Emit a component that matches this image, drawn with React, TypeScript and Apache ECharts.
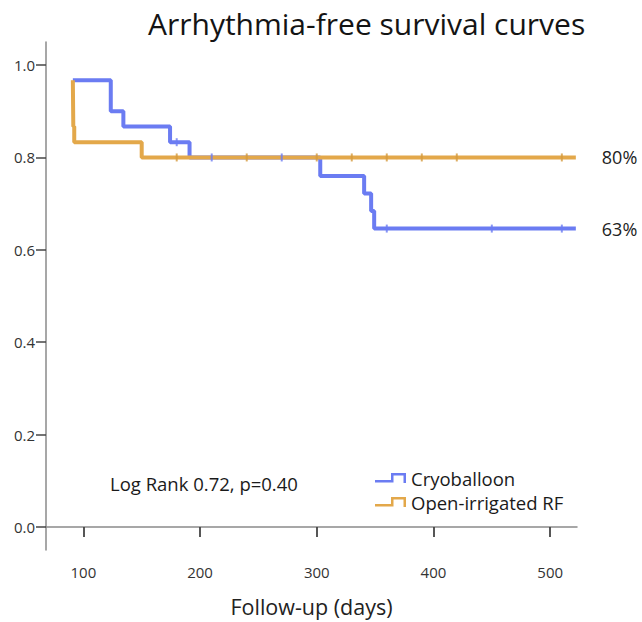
import React, { useEffect, useRef } from "react";
import * as echarts from "echarts";

const titleText = "Arrhythmia-free survival curves";
const xAxisName = "Follow-up (days)";
const statText = "Log Rank 0.72, p=0.40";
const seriesNames = ["Cryoballoon", "Open-irrigated RF"];
const endLabels = ["63%", "80%"];
const xTicks = [100, 200, 300, 400, 500];
const yTicks = [0, 0.2, 0.4, 0.6, 0.8, 1.0];

// Kaplan-Meier steps: [day, survival after event]
const cryoDays = [91, 123.5, 134.3, 174.3, 191, 303, 340.6, 346.6, 349.2, 522];
const cryoSurv = [0.967, 0.9, 0.867, 0.833, 0.8, 0.76, 0.722, 0.684, 0.646, 0.646];
const rfDays = [91, 91.4, 92.2, 150, 522];
const rfSurv = [0.967, 0.867, 0.833, 0.8, 0.8];

// censored observations
const cryoCensorDays = [180, 210, 270, 360, 450, 510];
const cryoCensorSurv = [0.833, 0.8, 0.8, 0.646, 0.646, 0.646];
const rfCensorDays = [180, 240, 300, 330, 360, 390, 420, 510];
const rfCensorSurv = [0.8, 0.8, 0.8, 0.8, 0.8, 0.8, 0.8, 0.8];

const BLUE = "#6b7cf2";
const ORANGE = "#e3a84a";
const FONT = "'Open Sans', 'Noto Sans', sans-serif";

const zip = (a: number[], b: number[]) => a.map((v, i) => [v, b[i]]);

const stepIcon =
  "path://M0,7 L16,7 L16,0 L31,0 L31,10 L28.5,10 L28.5,2.5 L18.5,2.5 L18.5,9.5 L0,9.5 Z";

export default function App() {
  const ref = useRef<HTMLDivElement>(null);
  useEffect(() => {
    if (!ref.current) return;
    const chart = echarts.init(ref.current, null, { renderer: "svg" });
    chart.setOption({
      animation: false,
      backgroundColor: "#ffffff",
      textStyle: { fontFamily: FONT },
      title: {
        text: titleText,
        left: 143,
        top: 3,
        textStyle: { fontSize: 30, fontWeight: "normal", color: "#141414", fontFamily: FONT },
      },
      grid: { left: 46, top: 42, right: 65, bottom: 71, containLabel: false },
      legend: {
        data: seriesNames.map((n) => ({ name: n, icon: stepIcon })),
        orient: "vertical",
        left: 370,
        top: 462,
        itemWidth: 31,
        itemHeight: 10,
        itemGap: 2,
        selectedMode: false,
        textStyle: { fontSize: 18.5, color: "#1a1a1a", fontFamily: FONT, lineHeight: 22 },
      },
      xAxis: {
        type: "value",
        min: 68,
        max: 523,
        name: xAxisName,
        nameLocation: "middle",
        nameGap: 45,
        nameTextStyle: { fontSize: 21.5, color: "#222", fontFamily: FONT },
        splitLine: { show: false },
        axisLine: { show: true, lineStyle: { color: "#8a8a8a", width: 1.5 } },
        axisTick: { show: true, length: 10, lineStyle: { color: "#444", width: 1.8 }, customValues: xTicks },
        axisLabel: { customValues: xTicks, fontSize: 15, color: "#333", margin: 14, fontFamily: FONT },
      },
      yAxis: {
        type: "value",
        min: -0.05,
        max: 1.05,
        splitLine: { show: false },
        axisLine: { show: true, lineStyle: { color: "#8a8a8a", width: 1.5 } },
        axisTick: { show: true, length: 10, lineStyle: { color: "#444", width: 1.5 }, customValues: yTicks },
        axisLabel: {
          customValues: yTicks,
          fontSize: 15,
          color: "#333",
          margin: 11,
          fontFamily: FONT,
          formatter: (v: number) => v.toFixed(1),
        },
      },
      series: [
        {
          name: seriesNames[0],
          type: "line",
          step: "end",
          data: zip(cryoDays, cryoSurv),
          showSymbol: false,
          color: BLUE,
          lineStyle: { color: BLUE, width: 4 },
          z: 2,
          endLabel: {
            show: true,
            formatter: () => endLabels[0],
            distance: 26,
            fontSize: 18,
            color: "#222",
            fontFamily: FONT,
          },
        },
        {
          name: seriesNames[1],
          type: "line",
          step: "end",
          data: zip(rfDays, rfSurv),
          showSymbol: false,
          color: ORANGE,
          lineStyle: { color: ORANGE, width: 4 },
          z: 3,
          endLabel: {
            show: true,
            formatter: () => endLabels[1],
            distance: 26,
            fontSize: 18,
            color: "#222",
            fontFamily: FONT,
          },
        },
        {
          name: "cryo-censored",
          type: "scatter",
          data: zip(cryoCensorDays, cryoCensorSurv),
          symbol: "rect",
          symbolSize: [2, 8],
          itemStyle: { color: BLUE },
          z: 4,
        },
        {
          name: "rf-censored",
          type: "scatter",
          data: zip(rfCensorDays, rfCensorSurv),
          symbol: "rect",
          symbolSize: [2, 8],
          itemStyle: { color: "#d49a3c" },
          z: 4,
        },
      ],
      graphic: [
        {
          type: "text",
          left: 110,
          top: 474,
          style: { text: statText, fontSize: 18.5, fill: "#1a1a1a", fontFamily: FONT },
        },
      ],
    });
    return () => chart.dispose();
  }, []);
  return <div ref={ref} style={{ width: 642, height: 622, position: "absolute", left: 0, top: 0 }} />;
}
